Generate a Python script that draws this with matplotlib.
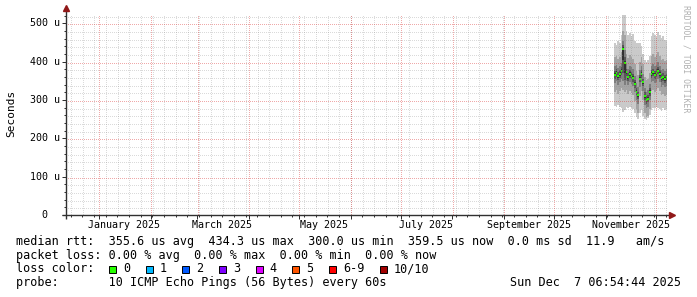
import matplotlib
matplotlib.use('Agg')
import matplotlib.pyplot as plt
import matplotlib.dates as mdates
from matplotlib.patches import Rectangle
from datetime import datetime, timedelta
import numpy as np

# ---------------- data ----------------
graph_start = datetime(2024, 12, 12, 6, 54, 44)
graph_end = datetime(2025, 12, 7, 6, 54, 44)

days = [datetime(2025, 11, 6) + timedelta(days=i) for i in range(32)]

median = [366, 371, 362, 368, 376, 434, 398, 372, 360, 368, 364, 358, 342, 322, 312, 356,
          368, 346, 310, 300, 304, 321, 368, 372, 366, 370, 377, 368, 357, 360, 355, 359.5]

hi1 = [450, 445, 455, 448, 470, 522, 522, 480, 470, 475, 468, 472, 455, 450, 448, 450,
       440, 420, 405, 400, 405, 415, 468, 475, 470, 465, 478, 470, 462, 468, 458, 455]
hi2 = [412, 415, 408, 412, 425, 480, 470, 420, 410, 418, 412, 408, 395, 375, 365, 400,
       412, 395, 360, 352, 355, 370, 415, 420, 412, 418, 425, 415, 405, 408, 402, 405]
hi3 = [388, 392, 384, 390, 398, 455, 430, 395, 382, 390, 386, 380, 364, 344, 334, 378,
       390, 368, 332, 322, 326, 343, 390, 394, 388, 392, 399, 390, 379, 382, 377, 381]
hi4 = [376, 381, 372, 378, 386, 444, 412, 382, 370, 378, 374, 368, 352, 332, 322, 366,
       378, 356, 320, 310, 314, 331, 378, 382, 376, 380, 387, 378, 367, 370, 365, 369]
hi5 = [370, 375, 366, 372, 380, 438, 402, 376, 364, 372, 368, 362, 346, 326, 316, 360,
       372, 350, 314, 304, 308, 325, 372, 376, 370, 374, 381, 372, 361, 364, 359, 363]
lo5 = [362, 367, 358, 364, 372, 405, 370, 368, 356, 364, 360, 354, 338, 318, 308, 352,
       364, 342, 306, 296, 300, 317, 364, 368, 362, 366, 373, 364, 353, 356, 351, 355]
lo4 = [356, 361, 352, 358, 366, 370, 352, 362, 350, 358, 354, 348, 332, 312, 302, 346,
       358, 336, 300, 290, 294, 311, 358, 362, 356, 360, 367, 358, 347, 350, 345, 349]
lo3 = [344, 349, 340, 346, 354, 350, 340, 350, 338, 346, 342, 336, 320, 300, 290, 334,
       346, 324, 288, 278, 282, 299, 346, 350, 344, 348, 355, 346, 335, 338, 333, 337]
lo2 = [321, 326, 317, 323, 331, 325, 320, 327, 315, 323, 319, 313, 297, 277, 267, 311,
       323, 301, 265, 255, 259, 276, 323, 327, 321, 325, 332, 323, 312, 315, 310, 314]
lo1 = [285, 283, 287, 282, 280, 268, 275, 282, 280, 282, 278, 276, 265, 255, 250, 265,
       275, 258, 250, 248, 252, 260, 275, 280, 278, 282, 280, 276, 272, 278, 275, 277]

smoke_grays = ['#cacaca', '#a4a4a4', '#7e7e7e', '#585858', '#323232']

y_major = [0, 100, 200, 300, 400, 500]
y_minor = list(range(20, 521, 20))
y_labels = ['0', '100 u', '200 u', '300 u', '400 u', '500 u']
x_label_months = [datetime(2025, 1, 1), datetime(2025, 3, 1), datetime(2025, 5, 1),
                  datetime(2025, 7, 1), datetime(2025, 9, 1), datetime(2025, 11, 1)]

legend_rtt = "median rtt:  355.6 us avg  434.3 us max  300.0 us min  359.5 us now  0.0 ms sd  11.9   am/s"
legend_loss = "packet loss: 0.00 % avg  0.00 % max  0.00 % min  0.00 % now"
loss_labels = ['0', '1', '2', '3', '4', '5', '6-9', '10/10']
loss_colors = ['#26ff00', '#00b8ff', '#0059ff', '#7e00ff', '#dd00ff', '#ff5500', '#ff0000', '#a10000']
probe_text = "probe:       10 ICMP Echo Pings (56 Bytes) every 60s"
date_text = "Sun Dec  7 06:54:44 2025"

# ---------------- figure ----------------
W, H = 697, 297
fig = plt.figure(figsize=(W / 100, H / 100), dpi=100)
fig.patch.set_facecolor('white')
ax = fig.add_axes([66 / W, (H - 215) / H, 600 / W, 200 / H])
ax.set_facecolor('white')

x0 = mdates.date2num(graph_start)
x1 = mdates.date2num(graph_end)
ymax = 522

edges = mdates.date2num(days + [days[-1] + timedelta(days=1)])

def ext(a):
    return list(a) + [a[-1]]

levels = [(lo1, hi1), (lo2, hi2), (lo3, hi3), (lo4, hi4), (lo5, hi5)]
for (lo, hi), col in zip(levels, smoke_grays):
    ax.fill_between(edges, ext(lo), ext(hi), step='post', color=col,
                    linewidth=0, antialiased=False, zorder=2)

swidth = ymax / 200.0
med = np.array(median)
ax.fill_between(edges, ext(med - swidth), ext(med + swidth), step='post',
                color='#26ff00', linewidth=0, antialiased=False, zorder=3)

# ticks
month_starts = [datetime(2024, 12, 1)] + [datetime(2025, m, 1) for m in range(1, 13)]
sundays = [datetime(2024, 12, 15) + timedelta(weeks=i) for i in range(52)]
ms_num = mdates.date2num(month_starts)
su_num = mdates.date2num(sundays)
ax.set_xticks(ms_num)
ax.set_xticks(su_num, minor=True)
ax.set_yticks(y_major)
ax.set_yticks(y_minor, minor=True)
ax.set_xlim(x0, x1)
ax.set_ylim(0, ymax)

axis_col = '#303030'
ax.tick_params(which='both', labelbottom=False, labelleft=False, direction='out',
               color=axis_col, width=0.72)
ax.tick_params(which='major', length=2.6)
ax.tick_params(which='minor', length=1.4)
for s in ax.spines.values():
    s.set_visible(False)

# dotted grid: single-pixel dots placed through the axes' own transforms
top_row, bot_row = 15, 215
left_col, right_col = 66, 666

def col_of(xv):
    return int(np.floor(ax.transData.transform((xv, 0))[0]))

def row_of(yv):
    return int(round(H - ax.transData.transform((x0, yv))[1]))

minor_pts, major_pts = [], []
for xv in su_num:
    if x0 < xv < x1:
        c = col_of(xv)
        minor_pts += [(c, r) for r in range(top_row, bot_row, 2)]
for yv in y_minor:
    if yv % 100 != 0:
        r = row_of(yv)
        minor_pts += [(c, r) for c in range(left_col + 1, right_col, 2)]
for xv in ms_num:
    if x0 < xv < x1:
        c = col_of(xv)
        major_pts += [(c, r) for r in range(top_row, bot_row, 2)]
for yv in y_major[1:]:
    r = row_of(yv)
    major_pts += [(c, r) for c in range(left_col + 1, right_col, 2)]

def draw_dots(pts, color, alpha):
    pts = np.array(pts, dtype=float)
    xs = pts[:, 0] + 0.5
    ys = H - pts[:, 1] - 0.5
    ax.scatter(xs, ys, s=(0.72 ** 2), marker='s', c=color, alpha=alpha, linewidths=0,
               transform=None, zorder=4, clip_on=False, antialiased=False)

draw_dots(minor_pts, '#8c8c8c', 0.32)
draw_dots(major_pts, '#d82828', 0.4)

# axes lines + arrows
ax.plot([-4 / 600, 604 / 600], [0, 0], color=axis_col, lw=1.0, transform=ax.transAxes,
        clip_on=False, zorder=6, solid_capstyle='butt')
ax.plot([0, 0], [-4 / 200, 206 / 200], color=axis_col, lw=1.0, transform=ax.transAxes,
        clip_on=False, zorder=6, solid_capstyle='butt')
arrow_col = '#901818'
ax.plot([606 / 600], [0], marker='>', markersize=4.5, color=arrow_col, mec=arrow_col,
        transform=ax.transAxes, clip_on=False, zorder=7)
ax.plot([0], [207 / 200], marker='^', markersize=4.5, color=arrow_col, mec=arrow_col,
        transform=ax.transAxes, clip_on=False, zorder=7)

mono = 'DejaVu Sans Mono'

# tick labels
for d in x_label_months:
    xd = mdates.date2num(d + timedelta(days=15))
    ax.text(xd, -9.5 / 200, d.strftime('%B %Y'), transform=ax.get_xaxis_transform(),
            ha='center', va='center', fontsize=7.2, family=mono, color='black')
for v, lab in zip(y_major, y_labels):
    xpx = 60 if lab != '0' else 47.5
    ax.text((xpx - 66) / 600, v, lab, transform=ax.get_yaxis_transform(),
            ha='right', va='center', fontsize=7.2, family=mono, color='black')

fig.text(11 / W, 1 - 113.5 / H, 'Seconds', rotation=90, ha='center', va='center',
         fontsize=8, family=mono, color='black')
fig.text(686 / W, 1 - 5 / H, 'RRDTOOL / TOBI OETIKER', rotation=270, ha='center', va='top',
         fontsize=5.9, family=mono, color='#b0b0b0')

# legend lines
fs = 8.5
fig.text(16 / W, 1 - 241.7 / H, legend_rtt, ha='left', va='center', fontsize=fs, family=mono)
fig.text(16 / W, 1 - 255.2 / H, legend_loss, ha='left', va='center', fontsize=fs, family=mono)
fig.text(16 / W, 1 - 269.0 / H, 'loss color:', ha='left', va='center', fontsize=fs, family=mono)
fig.text(16 / W, 1 - 282.7 / H, probe_text, ha='left', va='center', fontsize=fs, family=mono)
fig.text(681 / W, 1 - 282.7 / H, date_text, ha='right', va='center', fontsize=fs, family=mono)

cw = 7.1
xp = 109.0
for lab, col in zip(loss_labels, loss_colors):
    r = Rectangle((xp / W, 1 - 272.5 / H), 7 / W, 7 / H, transform=fig.transFigure,
                  facecolor=col, edgecolor='black', linewidth=0.7)
    fig.patches.append(r)
    fig.text((xp + 14) / W, 1 - 269.0 / H, lab, ha='left', va='center', fontsize=fs, family=mono)
    xp += 14 + len(lab) * cw + 15.6

fig.savefig('out.png', dpi=100, facecolor='white')
